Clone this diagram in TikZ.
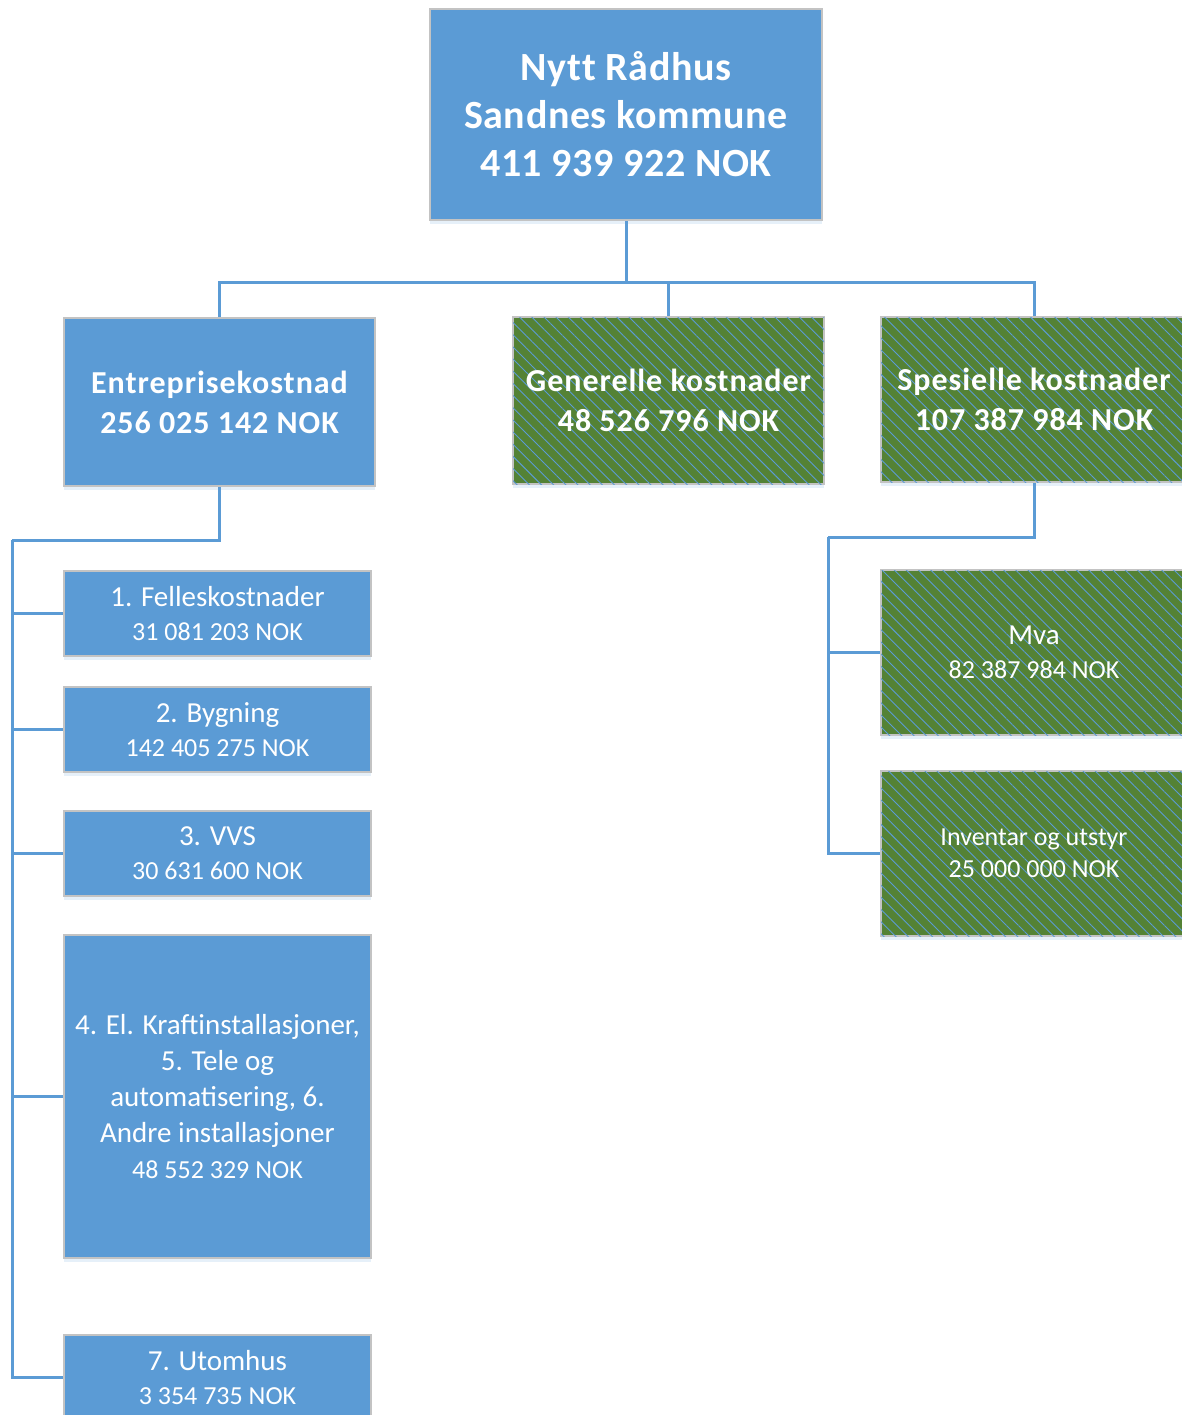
\documentclass[tikz,border=0pt]{standalone}
\usepackage{fontspec}
\setmainfont{Carlito}
\usetikzlibrary{calc, patterns.meta, shadows}

\definecolor{boxblue}{HTML}{5B9BD5}
\definecolor{boxgreen}{HTML}{548235}
\definecolor{boxedge}{HTML}{C3C3C3}

\tikzset{
  box/.style={draw=boxedge, line width=1pt, fill=boxblue, text=white, align=center,
    inner sep=1pt, drop shadow={shadow xshift=0pt, shadow yshift=-2pt, opacity=0.25, fill=boxblue!60}},
  hatchbox/.style={box, fill=boxgreen,
    postaction={pattern={Lines[angle=-45, distance=4.3pt, line width=0.45pt]}, pattern color=boxblue}},
  link/.style={draw=boxblue, line width=1.5pt, line join=miter},
  bigfont/.style={font=\fontsize{20}{24}\selectfont\bfseries\addfontfeatures{LetterSpace=1.5, Ligatures=NoCommon}},
  midfont/.style={font=\fontsize{16}{20}\selectfont\bfseries\addfontfeatures{LetterSpace=3, Ligatures=NoCommon}},
  smallfont/.style={font=\fontsize{14.5}{17}\selectfont},
}

\begin{document}
\begin{tikzpicture}[x=0.5pt, y=-0.5pt]
  \clip (0,0) rectangle (1182,1415);

  % Top level
  \node[box, bigfont, minimum width=196pt, minimum height=105.5pt] (top) at (626,114.5)
    {Nyt\kern0.3pt t Rådhus\\Sandnes kommune\\411 939 922 NOK};

  % Second level
  \node[box, midfont, minimum width=155.5pt, minimum height=84pt] (entr) at (219.5,402)
    {Entreprisekostnad\\256 025 142 NOK};
  \node[hatchbox, midfont, minimum width=155.5pt, minimum height=83.5pt] (gen) at (668.5,400.5)
    {Generelle kostnader\\48 526 796 NOK};
  \node[hatchbox, midfont, minimum width=153pt, minimum height=82.5pt] (spes) at (1034,399.5)
    {Spesielle kostnader\\107 387 984 NOK};

  % Entreprise items
  \node[box, smallfont, minimum width=153.5pt, minimum height=42.5pt] (p1) at (217.5,613.5)
    {1. Felleskostnader\\{\fontsize{13}{17}\selectfont 31 081 203 NOK}};
  \node[box, smallfont, minimum width=153.5pt, minimum height=42.5pt] (p2) at (217.5,729.5)
    {2. Bygning\\{\fontsize{13}{17}\selectfont 142 405 275 NOK}};
  \node[box, smallfont, minimum width=153.5pt, minimum height=42.5pt] (p3) at (217.5,853.5)
    {3. VVS\\{\fontsize{13}{17}\selectfont 30 631 600 NOK}};
  \node[box, font=\fontsize{14.5}{18}\selectfont, minimum width=153.5pt, minimum height=161.5pt] (p4) at (217.5,1096.5)
    {4. El. Kraftinstallasjoner,\\5. Tele og\\automatisering, 6.\\Andre installasjoner\\{\fontsize{13}{17}\selectfont 48 552 329 NOK}};
  \node[box, smallfont, minimum width=153.5pt, minimum height=42.5pt] (p7) at (217.5,1377.5)
    {7. Utomhus\\{\fontsize{13}{17}\selectfont 3 354 735 NOK}};

  % Spesielle items
  \node[hatchbox, smallfont, minimum width=153pt, minimum height=82.5pt] (mva) at (1034,652.5)
    {Mva\\{\fontsize{13}{17}\selectfont 82 387 984 NOK}};
  \node[hatchbox, font=\fontsize{13}{16}\selectfont, minimum width=153pt, minimum height=82.5pt] (inv) at (1034,853.5)
    {Inventar og utstyr\\25 000 000 NOK};

  % Connectors
  \coordinate (busA) at (626,282);
  \coordinate (busB) at (12,540);
  \coordinate (busC) at (828,537);
  \draw[link] (top.south) -- (busA);
  \foreach \n in {entr, gen, spes} {
    \draw[link] (busA) -| (\n.north);
  }
  \draw[link] (entr.south) |- (busB);
  \foreach \n in {p1, p2, p3, p4, p7} {
    \draw[link] (busB) |- (\n.west);
  }
  \draw[link] (spes.south) |- (busC);
  \foreach \n in {mva, inv} {
    \draw[link] (busC) |- (\n.west);
  }
\end{tikzpicture}
\end{document}
